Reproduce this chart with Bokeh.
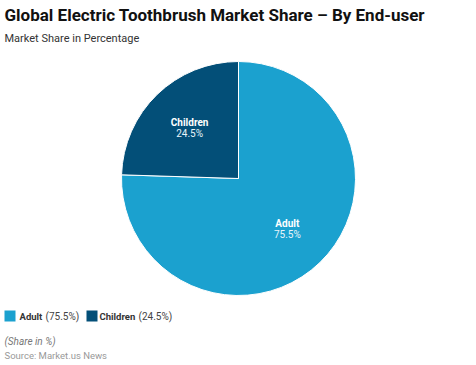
import math
from bokeh.plotting import figure
from bokeh.models import Range1d, ColumnDataSource
from bokeh.core.properties import value
from bokeh.embed import file_html
from bokeh.resources import INLINE

# ---- data ----
categories = ["Adult", "Children"]
shares = [75.5, 24.5]
colors = ["#1BA1CF", "#034F78"]
title_text = "Global Electric Toothbrush Market Share \u2013 By End-user"
subtitle_text = "Market Share in Percentage"
note_text = "(Share in %)"
source_text = "Source: Market.us News"

W, H = 476, 365
FONT = "Roboto"

def X(px):
    return px

def Y(py):
    return H - py

p = figure(width=W, height=H, output_backend="svg", toolbar_location=None,
           x_range=Range1d(0, W), y_range=Range1d(0, H), min_border=0)
p.axis.visible = False
p.grid.visible = False
p.outline_line_color = None
p.background_fill_color = "white"
p.border_fill_color = "white"

# pie
cx, cy, r = X(238), Y(178), 117
total = sum(shares)
starts, ends, lx, ly, names, pcts = [], [], [], [], [], []
acc = 0.0
for c, s in zip(categories, shares):
    a0 = math.pi / 2 - 2 * math.pi * acc / total
    a1 = math.pi / 2 - 2 * math.pi * (acc + s) / total
    starts.append(a0)
    ends.append(a1)
    mid = (a0 + a1) / 2
    lx.append(cx + 0.6 * r * math.cos(mid))
    ly.append(cy + 0.6 * r * math.sin(mid))
    names.append(c)
    pcts.append(f"{s}%")
    acc += s

src = ColumnDataSource(dict(start=starts, end=ends, color=colors,
                            lx=lx, ly=ly, name=names, pct=pcts,
                            ly1=[v + 5.5 for v in ly], ly2=[v - 5.5 for v in ly]))
p.wedge(x=cx, y=cy, radius=r, start_angle="start", end_angle="end",
        direction="clock", fill_color="color", line_color="white",
        line_width=1, source=src)
p.text(x="lx", y="ly1", text="name", source=src, text_color="white",
       text_font=value(FONT), text_font_size="10px", text_font_style="bold",
       text_align="center", text_baseline="middle")
p.text(x="lx", y="ly2", text="pct", source=src, text_color="#E8F4FA",
       text_font=value(FONT), text_font_size="10px",
       text_align="center", text_baseline="middle")

# titles
p.text(x=[X(4)], y=[Y(14)], text=[title_text], text_color="#111111",
       text_font=value(FONT), text_font_size="17px", text_font_style="bold",
       text_baseline="middle")
p.text(x=[X(4)], y=[Y(38)], text=[subtitle_text], text_color="#333333",
       text_font=value(FONT), text_font_size="11px", text_baseline="middle")

# legend
leg_sq_x = [X(9.5), X(91.5)]
leg_y = Y(315.5)
p.rect(x=leg_sq_x, y=[leg_y] * 2, width=11, height=11, fill_color=colors,
       line_color=None)
bold_x = [X(19), X(99)]
norm_x = [X(45), X(138)]
p.text(x=bold_x, y=[leg_y] * 2, text=categories, text_color="#333333",
       text_font=value(FONT), text_font_size="9.5px", text_font_style="bold",
       text_baseline="middle")
p.text(x=norm_x, y=[leg_y] * 2, text=[f"({s}%)" for s in shares],
       text_color="#444444", text_font=value(FONT), text_font_size="10px",
       text_baseline="middle")

# notes
p.text(x=[X(4)], y=[Y(341)], text=[note_text], text_color="#777777",
       text_font=value(FONT), text_font_size="10px", text_font_style="italic",
       text_baseline="middle")
p.text(x=[X(4)], y=[Y(355)], text=[source_text], text_color="#999999",
       text_font=value(FONT), text_font_size="9.5px", text_baseline="middle")

open("out.html", "w").write(file_html(p, INLINE))
